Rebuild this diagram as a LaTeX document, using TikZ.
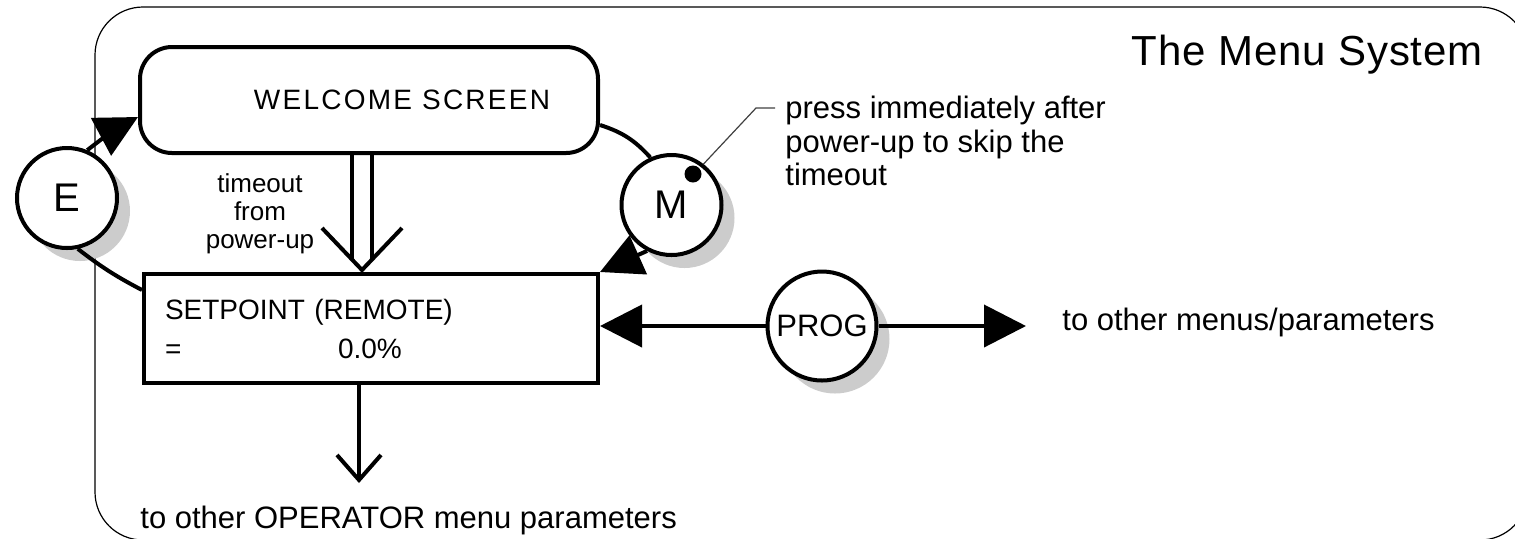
\documentclass[tikz,border=0pt]{standalone}
\usepackage{fontspec}
\setmainfont{Liberation Sans}
\usetikzlibrary{arrows.meta,shadows,calc}
\begin{document}
\begin{tikzpicture}[x=0.5pt,y=-0.5pt,
  thickline/.style={line width=2pt},
  btn/.style={circle, draw, line width=2pt, fill=white, inner sep=0pt,
    font=\fontsize{20}{22}\selectfont,
    drop shadow={shadow xshift=6.5pt, shadow yshift=-6.5pt, fill=black!20, opacity=1}},
  fat/.style={-{Triangle[length=21pt,width=21pt]}},
  barb/.style={-{Straight Barb[length=12.5pt,width=22pt]}},
  txt/.style={inner sep=0pt, font=\fontsize{15.5}{16.75}\selectfont}]
\useasboundingbox (0,0) rectangle (1515,538);
\begin{scope}
  \clip (0,0) rectangle (1515,538);
  \draw[line width=0.6pt, rounded corners=24pt] (95,7) rectangle (1528,540);
\end{scope}

% boxes
\node[draw, thickline, rounded corners=16pt, minimum width=229pt, minimum height=53pt,
  inner sep=0pt, font=\fontsize{14}{16}\selectfont\addfontfeature{LetterSpace=8}]
  (welcome) at (369,100) {\hspace*{33pt}WELCOME SCREEN};
\node[draw, thickline, minimum width=227pt, minimum height=54.5pt, text width=206pt,
  align=left, inner sep=0pt, font=\fontsize{14}{19.5}\selectfont]
  (sp) at (371,328.5) {SETPOINT (REMOTE)\\ \makebox[86.5pt][l]{=}0.0\%};

% buttons
\node[btn, minimum size=50pt] (E) at (67,198) {E};
\node[btn, minimum size=50pt] (M) at (671.5,205) {M};
\node[btn, minimum size=54.5pt, font=\fontsize{15.5}{18}\selectfont] (prog) at (822,326) {PROG};

% texts
\node[inner sep=0pt, anchor=base east, font=\fontsize{21}{25}\selectfont\addfontfeature{LetterSpace=2}]
  (title) at (1483,65) {The Menu System};
\node[inner sep=0pt, align=center, font=\fontsize{13}{14}\selectfont] (tmo) at (260,214)
  {timeout\\from\\power-up};
\node[txt, anchor=west, align=left] (callout) at (785,141)
  {press immediately after\\power-up to skip the\\timeout};
\node[txt, anchor=base west] (menus) at (1062,330) {to other menus/parameters};
\node[txt, anchor=base west] (op) at (140,528) {to other OPERATOR menu parameters};

% connectors
\coordinate (wL) at ([yshift=-8.5pt]welcome.west);
\coordinate (wR) at ([yshift=-12.5pt]welcome.east);
\coordinate (spL) at ([yshift=19.25pt]sp.west);
\draw[thickline, fat] (E.67) to[bend left=5] (wL);
\draw[thickline] (E.-78) to[bend right=5] (spL);
\draw[thickline] (wR) to[bend left=15] (M.114);
\draw[thickline, fat] (M.-118) -- (sp.north east);
\draw[thickline, fat] (prog.west) -- (prog.west -| sp.east);
\draw[thickline, fat] (prog.east) -- ([xshift=-18pt]menus.west |- prog.east);

% double arrow (timeout)
\coordinate (tipA) at (362,270);
\draw[thickline] ([xshift=-5pt]tipA |- welcome.south) -- ([xshift=-5pt,yshift=5.25pt]tipA);
\draw[thickline] ([xshift=5pt]tipA |- welcome.south) -- ([xshift=5pt,yshift=5.25pt]tipA);
\draw[thickline] ([shift={(-40,-42)}]tipA) -- (tipA) -- ([shift={(40,-42)}]tipA);

% down arrow
\coordinate (dnEnd) at (359,483);
\draw[thickline, barb] (dnEnd |- sp.south) -- (dnEnd);

% callout leader and dot
\node[circle, fill, inner sep=0pt, minimum size=8.5pt] (dot) at (693,174) {};
\coordinate (lead) at (756,108);
\draw[line width=0.6pt, black!75] (M.52) -- (lead) -- ([xshift=-5pt]callout.west |- lead);
\end{tikzpicture}
\end{document}
